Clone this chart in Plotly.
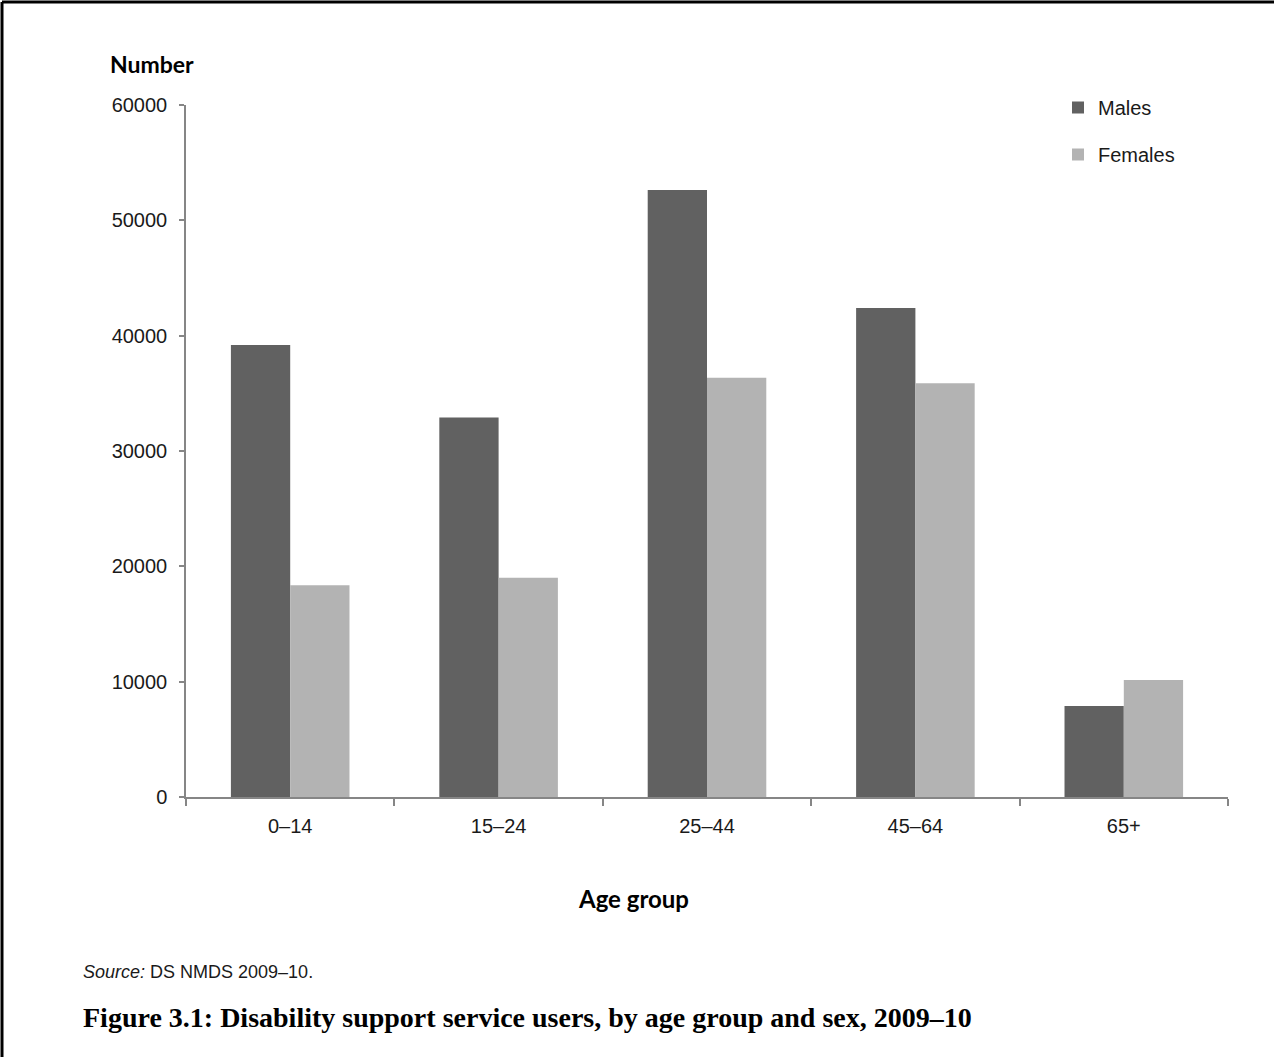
import plotly.graph_objects as go

categories = ["0–14", "15–24", "25–44", "45–64", "65+"]
males = [39200, 32900, 52630, 42400, 7890]
females = [18350, 19010, 36360, 35870, 10150]
y_ticks = [0, 10000, 20000, 30000, 40000, 50000, 60000]

W, H = 1274, 1057
L, R, T, B = 186, 46, 105, 260
plot_w = W - L - R
plot_h = H - T - B


def fx(px):
    """page pixel x -> plot-area paper coordinate"""
    return (px - L) / plot_w


def fy(py):
    """page pixel y (from top) -> plot-area paper coordinate"""
    return (H - py - B) / plot_h


fig = go.Figure()
fig.add_trace(go.Bar(x=categories, y=males, name="Males", legendgroup="m",
                     marker=dict(color="#616161", line=dict(width=0))))
fig.add_trace(go.Bar(x=categories, y=females, name="Females", legendgroup="f",
                     marker=dict(color="#b3b3b3", line=dict(width=0))))

font_sans = "Liberation Sans, Arial, sans-serif"
fig.update_layout(
    width=W, height=H,
    margin=dict(l=L, r=R, t=T, b=B, pad=0),
    paper_bgcolor="white", plot_bgcolor="white",
    barmode="group", bargap=0.431, bargroupgap=0,
    showlegend=True,
    legend=dict(x=fx(1058), y=fy(88), xanchor="left", yanchor="top",
                font=dict(family=font_sans, size=20, color="#1a1a1a"),
                tracegroupgap=18, bgcolor="rgba(0,0,0,0)"),
    font=dict(family=font_sans, size=20, color="#1a1a1a"),
)

fig.update_xaxes(
    type="category", tickson="boundaries", ticks="outside", ticklen=7,
    tickcolor="#868686", tickwidth=1.5,
    showline=True, linecolor="#868686", linewidth=1.5,
    showgrid=False, zeroline=False,
    tickfont=dict(family=font_sans, size=20, color="#1a1a1a"),
    ticklabelstandoff=10,
)
fig.update_yaxes(
    range=[0, 60000], tickvals=y_ticks, ticktext=[str(v) for v in y_ticks],
    ticks="outside", ticklen=5, tickcolor="#868686", tickwidth=1.5,
    showline=True, linecolor="#868686", linewidth=1.5,
    showgrid=False, zeroline=False,
    tickfont=dict(family=font_sans, size=20, color="#1a1a1a"),
    ticklabelstandoff=8,
)

annos = [
    dict(text="<b>Number</b>", x=fx(152), y=fy(64), xanchor="center", yanchor="middle",
         font=dict(family="Lato, Open Sans, sans-serif", size=23, color="#000000")),
    dict(text="<b>Age group</b>", x=fx(633), y=fy(898), xanchor="center", yanchor="middle",
         font=dict(family="Lato, Open Sans, sans-serif", size=24, color="#000000")),
    dict(text="<i>Source:</i> DS NMDS 2009–10.", x=fx(81), y=fy(972), xanchor="left", yanchor="middle",
         font=dict(family=font_sans, size=18, color="#1a1a1a")),
    dict(text="<b>Figure 3.1: Disability support service users, by age group and sex, 2009–10</b>",
         x=fx(81), y=fy(1017), xanchor="left", yanchor="middle",
         font=dict(family="Liberation Serif, Times New Roman, serif", size=28, color="#000000")),
]
for a in annos:
    fig.add_annotation(xref="paper", yref="paper", showarrow=False, **a)

# Page border on left and top
fig.add_shape(type="line", xref="paper", yref="paper",
              x0=fx(2), x1=fx(2), y0=fy(H), y1=fy(2),
              line=dict(color="black", width=3))
fig.add_shape(type="line", xref="paper", yref="paper",
              x0=fx(2), x1=fx(W), y0=fy(2), y1=fy(2),
              line=dict(color="black", width=3))

fig.write_html("out.html")
